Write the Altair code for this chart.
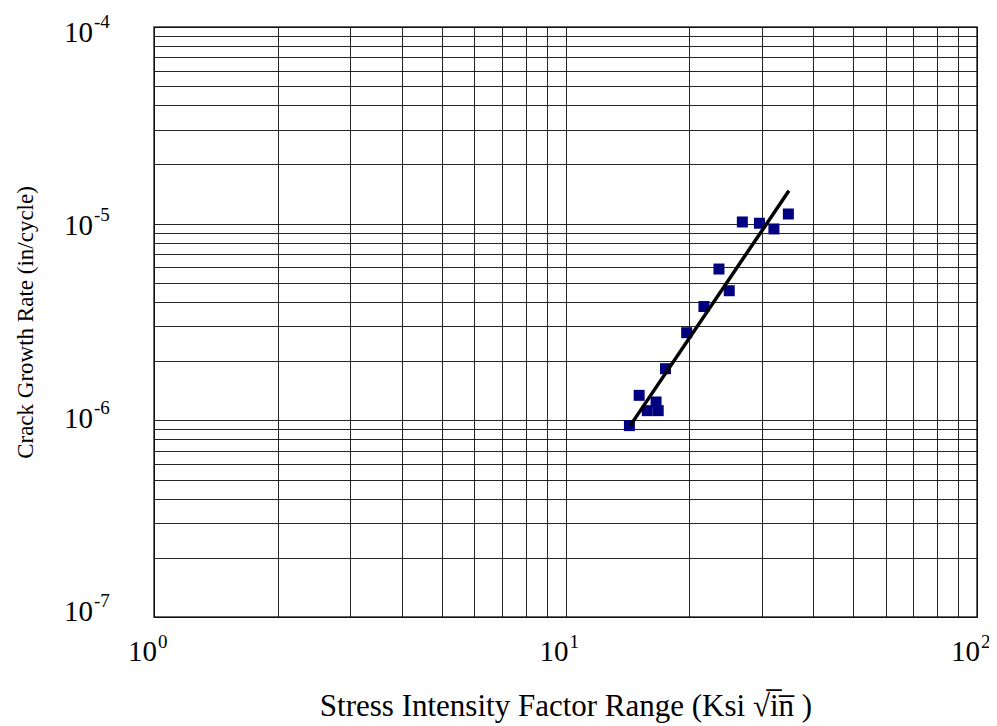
import altair as alt
import pandas as pd

# Measured data (stress intensity factor range vs crack growth rate)
delta_k = [14.3, 15.1, 15.8, 16.6, 16.8, 17.5, 19.7, 21.7, 23.6, 25.0, 26.9, 29.6, 32.1, 34.8]
dadn = [9.4e-7, 1.34e-6, 1.12e-6, 1.24e-6, 1.12e-6, 1.83e-6, 2.79e-6, 3.79e-6,
        5.88e-6, 4.56e-6, 1.02e-5, 1.005e-5, 9.4e-6, 1.12e-5]

# Fitted power-law line (end points)
fit_k = [14.35, 34.9]
fit_rate = [9.37e-7, 1.47e-5]

# Tick labels (decades)
x_tick_values = [1, 10, 100]
x_tick_exps = ["0", "1", "2"]
y_tick_values = [1e-7, 1e-6, 1e-5, 1e-4]
y_tick_exps = ["-7", "-6", "-5", "-4"]

# Log grid lines
x_grid = [1, 2, 3, 4, 5, 6, 7, 8, 9, 10, 20, 30, 40, 50, 60, 70, 80, 90, 100]
y_grid = [m * 10.0 ** e for e in (-7, -6, -5) for m in range(1, 10)] + [1e-4]

FONT = "Liberation Serif"

pts = pd.DataFrame({"dk": delta_k, "rate": dadn})
fit = pd.DataFrame({"dk": fit_k, "rate": fit_rate})
xl = pd.DataFrame({"dk": x_tick_values, "base": ["10"] * 3, "exp": x_tick_exps})
yl = pd.DataFrame({"rate": y_tick_values, "base": ["10"] * 4, "exp": y_tick_exps})

xscale = alt.Scale(type="log", domain=[1, 100], nice=False)
yscale = alt.Scale(type="log", domain=[1e-7, 1e-4], nice=False)
# the decade labels of the original sit on a slightly compressed ladder
ylabel_scale = alt.Scale(type="log", domain=[10 ** -7.036, 10 ** -3.977], nice=False)

xaxis = alt.Axis(values=x_grid, grid=True, labels=False, ticks=False, domain=False,
                 title="Stress Intensity Factor Range (Ksi \u221Ai\u0305n\u0305 )",
                 titleFont=FONT, titleFontSize=31, titleFontWeight="normal",
                 titleColor="black", titleBaseline="alphabetic", titleY=98,
                 gridColor="black", gridWidth=1, gridOpacity=0.85)
yaxis = alt.Axis(values=y_grid, grid=True, labels=False, ticks=False, domain=False,
                 title="Crack Growth Rate (in/cycle)",
                 titleFont=FONT, titleFontSize=23, titleFontWeight="normal",
                 titleColor="black", titleBaseline="middle", titleX=-129,
                 gridColor="black", gridWidth=1, gridOpacity=0.85)

X = alt.X("dk:Q", scale=xscale, axis=xaxis)
Y = alt.Y("rate:Q", scale=yscale, axis=yaxis)
YL = alt.Y("rate:Q", scale=ylabel_scale, axis=None)

points = alt.Chart(pts).mark_square(size=121, color="#000080", opacity=1).encode(x=X, y=Y)

line = alt.Chart(fit).mark_line(color="black", strokeWidth=3.5).encode(x=X, y=Y)

BASE_SIZE = 29
EXP_SIZE = 19

x_base = alt.Chart(xl).mark_text(font=FONT, fontSize=BASE_SIZE, align="right",
                                 baseline="middle", dx=3, dy=35, color="black").encode(
    x=X, y=alt.datum(1e-7), text="base:N",
)
x_exp = alt.Chart(xl).mark_text(font=FONT, fontSize=EXP_SIZE, align="left",
                                baseline="middle", dx=4, dy=25, color="black").encode(
    x=X, y=alt.datum(1e-7), text="exp:N",
)
y_base = alt.Chart(yl).mark_text(font=FONT, fontSize=BASE_SIZE, align="right",
                                 baseline="middle", dx=-61, dy=2, color="black").encode(
    x=alt.datum(1), y=YL, text="base:N",
)
y_exp = alt.Chart(yl).mark_text(font=FONT, fontSize=EXP_SIZE, align="left",
                                baseline="middle", dx=-60, dy=-9, color="black").encode(
    x=alt.datum(1), y=YL, text="exp:N",
)

main = alt.layer(points, line, x_base, x_exp)
ylabels = alt.layer(y_base, y_exp)

chart = alt.layer(main, ylabels).resolve_scale(y="independent").properties(
    width=823, height=590,
    autosize=alt.AutoSizeParams(type="none"),
    padding={"left": 146, "top": 19, "right": 12, "bottom": 108},
    background="white",
).configure_view(
    stroke="#333333", strokeWidth=1.5
)

chart.save("out.html", embed_options={"renderer": "svg", "actions": False})
